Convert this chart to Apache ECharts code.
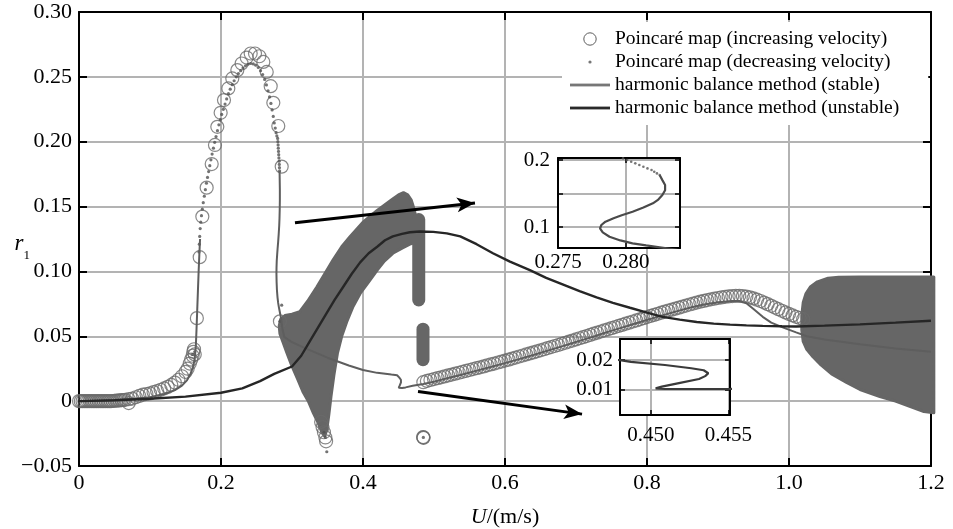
<!DOCTYPE html>
<html><head><meta charset="utf-8">
<script src="https://cdn.jsdelivr.net/npm/echarts@6.0.0/dist/echarts.min.js"></script>
<style>html,body{margin:0;padding:0;background:#fff}#c{width:953px;height:529px}</style>
</head><body><div id="c"></div><script>
// ---------- tick labels ----------
const xTicks = [0, 0.2, 0.4, 0.6, 0.8, 1.0, 1.2];
const xTickLabels = ['0', '0.2', '0.4', '0.6', '0.8', '1.0', '1.2'];
const yTicks = [-0.05, 0, 0.05, 0.10, 0.15, 0.20, 0.25, 0.30];
const yTickLabels = ['\u22120.05', '0', '0.05', '0.10', '0.15', '0.20', '0.25', '0.30'];
const inset1XTicks = [0.275, 0.280];
const inset1XLabels = ['0.275', '0.280'];
const inset1YTicks = [0.1, 0.2];
const inset1YLabels = ['0.1', '0.2'];
const inset2XTicks = [0.450, 0.455];
const inset2XLabels = ['0.450', '0.455'];
const inset2YTicks = [0.01, 0.02];
const inset2YLabels = ['0.01', '0.02'];

const nameInc = 'Poincaré map (increasing velocity)';
const nameDec = 'Poincaré map (decreasing velocity)';
const nameSt = 'harmonic balance method (stable)';
const nameUn = 'harmonic balance method (unstable)';

// ---------- Poincaré map, increasing velocity (open circles) ----------
const incCircles = [
 [0,0],[0.0025,0],[0.005,0],[0.0075,0],[0.01,0],[0.0125,0],[0.015,0],[0.0175,0],[0.02,0],[0.0225,0],
 [0.025,0],[0.0275,0],[0.03,0],[0.0325,0],[0.035,0],[0.0375,0],[0.04,0],[0.0425,0],[0.045,0],[0.0475,0.0001],
 [0.05,0.0003],[0.0525,0.0004],[0.055,0.0005],[0.0575,0.0006],[0.06,0.0008],[0.0625,0.0009],[0.065,0.001],
 [0.07,-0.0015],[0.07,0.0015],[0.075,0.002],
 [0.08,0.003],[0.085,0.004],[0.09,0.005],[0.095,0.0055],[0.1,0.006],[0.105,0.007],[0.11,0.0078],
 [0.115,0.0088],[0.12,0.0098],[0.125,0.011],[0.13,0.0125],[0.135,0.0143],[0.14,0.0165],[0.145,0.0192],
 [0.15,0.0225],[0.153,0.025],[0.156,0.029],[0.158,0.032],[0.16,0.035],[0.161,0.038],[0.163,0.036],[0.162,0.040],
 [0.166,0.064],[0.170,0.111],
 [0.1737,0.1423],[0.1798,0.1646],[0.1869,0.1828],[0.1915,0.1975],[0.1948,0.2115],[0.1995,0.2223],
 [0.2042,0.2321],[0.2103,0.2411],[0.2159,0.2488],[0.223,0.2552],[0.2291,0.2603],[0.2362,0.2649],
 [0.2418,0.268],[0.2479,0.268],[0.254,0.2659],[0.2596,0.2615],[0.2644,0.2538],[0.27,0.2428],
 [0.2737,0.23],[0.2807,0.2121],[0.2855,0.1808],
 [0.283,0.0615],
 [0.341,-0.016],[0.343,-0.02],[0.345,-0.024],[0.347,-0.028],[0.348,-0.031],
 [0.485,-0.028],[0.4853,-0.0283],[0.4847,-0.0277],
 [0.485,0.0146],[0.49,0.0156],[0.495,0.0163],[0.5,0.017],[0.505,0.0177],[0.51,0.0184],[0.515,0.0191],
 [0.52,0.0198],[0.525,0.0205],[0.53,0.0212],[0.535,0.0219],[0.54,0.0226],[0.545,0.0233],[0.55,0.024],
 [0.555,0.0247],[0.56,0.0254],[0.565,0.0261],[0.57,0.0268],[0.575,0.0276],[0.58,0.0283],[0.585,0.029],
 [0.59,0.0298],[0.595,0.0305],[0.6,0.0313],[0.605,0.032],[0.61,0.0328],[0.615,0.0336],[0.62,0.0344],
 [0.625,0.0352],[0.63,0.036],[0.635,0.0368],[0.64,0.0376],[0.645,0.0384],[0.65,0.0392],[0.655,0.04],
 [0.66,0.0409],[0.665,0.0417],[0.67,0.0425],[0.675,0.0433],[0.68,0.0442],[0.685,0.045],[0.69,0.0459],
 [0.695,0.0467],[0.7,0.0476],[0.705,0.0485],[0.71,0.0493],[0.715,0.0502],[0.72,0.0511],[0.725,0.052],
 [0.73,0.0528],[0.735,0.0537],[0.74,0.0546],[0.745,0.0554],[0.75,0.0563],[0.755,0.0571],[0.76,0.058],
 [0.765,0.0588],[0.77,0.0597],[0.775,0.0605],[0.78,0.0614],[0.785,0.0622],[0.79,0.0631],[0.795,0.064],
 [0.8,0.0648],[0.805,0.0657],[0.81,0.0665],[0.815,0.0673],[0.82,0.0682],[0.825,0.069],[0.83,0.0698],
 [0.835,0.0705],[0.84,0.0713],[0.845,0.0721],[0.85,0.0729],[0.855,0.0737],[0.86,0.0745],[0.865,0.0752],
 [0.87,0.076],[0.875,0.0767],[0.88,0.0773],[0.885,0.0779],[0.89,0.0785],[0.895,0.079],[0.9,0.0795],
 [0.905,0.08],[0.91,0.0804],[0.915,0.0807],[0.92,0.081],[0.925,0.0811],[0.93,0.0812],[0.935,0.081],
 [0.94,0.0806],[0.945,0.08],[0.95,0.0792],[0.955,0.0782],[0.96,0.0772],[0.965,0.076],[0.97,0.0748],
 [0.975,0.0735],[0.98,0.0722],[0.985,0.0709],[0.99,0.0697],[0.995,0.0684],[1.0,0.0672],[1.005,0.0661],
 [1.01,0.065],[1.015,0.0641],[1.02,0.0632]
];

// ---------- Poincaré map, decreasing velocity (dots) ----------
const decDots = [
 [0.169,0.115],[0.1695,0.121],[0.170,0.127],[0.1707,0.133],[0.1715,0.138],[0.1725,0.143],[0.1737,0.148],
 [0.175,0.153],[0.1765,0.158],[0.178,0.163],[0.1795,0.168],[0.181,0.1725],[0.1826,0.177],[0.1842,0.1815],
 [0.1858,0.186],[0.1875,0.1905],[0.1893,0.195],[0.1911,0.1995],[0.193,0.204],[0.195,0.2085],[0.197,0.213],
 [0.199,0.217],[0.201,0.221],[0.2033,0.225],[0.2057,0.229],[0.208,0.233],[0.2105,0.237],[0.213,0.2405],
 [0.2158,0.244],[0.2185,0.247],[0.2215,0.25],[0.2245,0.2525],[0.2277,0.2548],[0.231,0.2568],[0.2345,0.2585],
 [0.238,0.2597],[0.2418,0.2603],[0.2455,0.26],[0.249,0.259],[0.2525,0.2572],[0.2557,0.2548],[0.2587,0.2518],
 [0.2615,0.248],[0.264,0.2438],[0.2663,0.2393],[0.2684,0.2345],[0.2703,0.2295],[0.272,0.2245],[0.2736,0.2195],
 [0.275,0.2145],[0.2764,0.2105],[0.2776,0.207],[0.2787,0.2045],
 [0.2798,0.2025],[0.2801,0.2],[0.2804,0.1975],[0.2807,0.195],[0.281,0.1925],[0.2813,0.19],[0.2816,0.1875],
 [0.2819,0.185],[0.2821,0.1825],[0.2823,0.18],[0.2825,0.1775],
 [0.2855,0.074],[0.283,0.0615],[0.16,0.036],[0.163,0.038],
 [0.345,-0.024],[0.347,-0.028],[0.349,-0.039],[0.485,-0.028]
];

// ---------- harmonic balance method, stable ----------
const hbmStableA = [
 [0,0],[0.04,0.0005],[0.08,0.002],[0.1,0.003],[0.12,0.0055],[0.135,0.0085],[0.145,0.012],[0.152,0.016],
 [0.157,0.021],[0.161,0.027],[0.163,0.033],[0.1645,0.042],[0.1655,0.055],[0.1665,0.07],[0.1675,0.085],
 [0.1685,0.1],[0.1695,0.113],[0.1705,0.125]
];
const hbmStableB = [
 [0.2825,0.1775],[0.2827,0.17],[0.2829,0.1627],[0.2829,0.155],[0.2827,0.1478],[0.2824,0.141],[0.282,0.1354],
 [0.2813,0.129],[0.2805,0.1228],[0.2797,0.1175],[0.2791,0.113],[0.2785,0.108],[0.2782,0.103],[0.2781,0.098],
 [0.2783,0.092],[0.2788,0.0855],[0.2796,0.08],[0.2805,0.0757],[0.2815,0.0725],[0.2825,0.0697],[0.2845,0.064],
 [0.2865,0.056],[0.289,0.0495],[0.295,0.0472],[0.3,0.0455],[0.32,0.0405],[0.35,0.0335],[0.38,0.0275],
 [0.4,0.024],[0.42,0.0218],[0.44,0.0205],[0.448,0.02],[0.4487,0.0194],[0.4509,0.0183],[0.4526,0.0172],
 [0.4534,0.0165],[0.4537,0.0155],[0.4535,0.0145],[0.4531,0.0135],[0.4518,0.0121],[0.4507,0.0109],
 [0.4503,0.0103],[0.4509,0.0101],[0.4551,0.0101],[0.46,0.0106],[0.47,0.0118],[0.485,0.0132],
 [0.5,0.015],[0.52,0.0178],[0.54,0.0206],[0.56,0.0234],[0.58,0.0263],[0.6,0.0293],[0.62,0.0324],
 [0.64,0.0356],[0.66,0.0389],[0.68,0.0422],[0.7,0.0456],[0.72,0.049],[0.74,0.0525],[0.76,0.0559],
 [0.78,0.0593],[0.8,0.0626],[0.82,0.0658],[0.84,0.069],[0.86,0.072],[0.88,0.0745],[0.9,0.0763],
 [0.92,0.0772],[0.93,0.0772],[0.94,0.0755],[0.95,0.071],[0.963,0.065],[0.975,0.0605],[0.992,0.0567],
 [1.01,0.053],[1.025,0.05],[1.05,0.0475],[1.1,0.0438],[1.15,0.0405],[1.2,0.038]
];

// ---------- harmonic balance method, unstable ----------
const hbmUnstable = [
 [0,0],[0.05,0.0007],[0.1,0.0018],[0.15,0.0035],[0.2,0.0065],[0.23,0.0098],[0.255,0.0154],[0.275,0.021],
 [0.3,0.0267],[0.313,0.035],[0.325,0.046],[0.337,0.057],[0.349,0.068],[0.36,0.078],[0.372,0.088],
 [0.384,0.098],[0.396,0.107],[0.408,0.114],[0.42,0.119],[0.431,0.124],[0.442,0.127],[0.455,0.129],
 [0.466,0.1302],[0.48,0.1308],[0.499,0.1305],[0.518,0.1293],[0.537,0.127],[0.56,0.121],[0.583,0.114],
 [0.607,0.1075],[0.635,0.101],[0.658,0.095],[0.682,0.0898],[0.705,0.0848],[0.729,0.08],[0.752,0.0758],
 [0.776,0.072],[0.8,0.0683],[0.822,0.065],[0.846,0.0628],[0.87,0.061],[0.894,0.0598],[0.917,0.059],
 [0.94,0.0584],[0.963,0.058],[0.99,0.0577],[1.01,0.0576],[1.05,0.0582],[1.1,0.0592],[1.15,0.0605],[1.2,0.062]
];

// ---------- dense Poincaré clouds (outlines) ----------
const cloudMid = [
 [0.282,0.058],[0.284,0.063],[0.29,0.066],[0.3,0.067],[0.311,0.069],[0.322,0.077],[0.335,0.088],
 [0.346,0.098],[0.358,0.109],[0.37,0.119],[0.382,0.127],[0.4,0.138],[0.42,0.147],[0.44,0.155],
 [0.45,0.159],[0.457,0.1607],[0.463,0.159],[0.468,0.155],[0.472,0.148],[0.475,0.14],
 [0.472,0.122],[0.466,0.121],[0.455,0.118],[0.442,0.114],[0.43,0.108],[0.42,0.101],[0.408,0.092],
 [0.396,0.083],[0.386,0.073],[0.377,0.061],[0.37,0.05],[0.364,0.037],[0.359,0.02],[0.355,0.004],
 [0.352,-0.01],[0.349,-0.022],[0.346,-0.027],[0.342,-0.024],[0.337,-0.017],[0.33,-0.009],[0.323,0.0],
 [0.316,0.0066],[0.308,0.017],[0.3,0.027],[0.293,0.037],[0.287,0.046],[0.283,0.052]
];
const cloudRight = [
 [1.02,0.076],[1.024,0.083],[1.03,0.088],[1.04,0.092],[1.055,0.0948],[1.07,0.0956],[1.1,0.0957],
 [1.15,0.0957],[1.204,0.0957],[1.204,-0.009],[1.19,-0.008],[1.17,-0.004],[1.15,0.0],[1.128,0.0036],
 [1.1,0.009],[1.081,0.0144],[1.06,0.021],[1.045,0.028],[1.034,0.034],[1.025,0.04],[1.02,0.046],
 [1.018,0.055],[1.018,0.066]
];
const cloudBar1 = [[0.4785,0.14],[0.4785,0.078]];
const cloudBar2 = [[0.4845,0.0555],[0.4845,0.032]];

// ---------- annotation arrows ----------
const arrow1 = [[0.3042,0.1375],[0.5577,0.1528]];
const arrow2 = [[0.4775,0.0074],[0.7085,-0.010]];

// ---------- styling ----------
const FONT = "'Liberation Serif','Times New Roman',serif";
const C_INC = '#6a6a6a', C_DEC = '#505050', C_ST = '#5e5e5e', C_UN = '#262626', C_CLOUD = '#666666';
const GRIDC = '#b3b3b3';

function lab(ticks, labels) {
  return function (v) {
    for (let i = 0; i < ticks.length; i++) if (Math.abs(ticks[i] - v) < 1e-9) return labels[i];
    return '';
  };
}
function svgIcon(inner) {
  return 'image://data:image/svg+xml;charset=utf-8,' + encodeURIComponent(
    "<svg xmlns='http://www.w3.org/2000/svg' width='40' height='14' viewBox='0 0 40 14'>" + inner + "</svg>");
}

function mainAxisX(pos, show) {
  return {
    type: 'value', gridIndex: 0, position: pos, min: 0, max: 1.2, interval: 0.2,
    axisLine: { show: true, onZero: false, lineStyle: { color: '#000', width: 2 } },
    axisTick: { show: true, inside: true, length: 8, lineStyle: { color: '#000', width: 2 } },
    axisLabel: { show: show, margin: 6, formatter: lab(xTicks, xTickLabels), fontFamily: FONT, fontSize: 22, color: '#000' },
    splitLine: { show: show, lineStyle: { color: GRIDC, width: 2 } },
    z: 0
  };
}
function mainAxisY(pos, show) {
  return {
    type: 'value', gridIndex: 0, position: pos, min: -0.05, max: 0.30, interval: 0.05,
    axisLine: { show: true, onZero: false, lineStyle: { color: '#000', width: 2 } },
    axisTick: { show: true, inside: true, length: 8, lineStyle: { color: '#000', width: 2 } },
    axisLabel: { show: show, margin: 7, formatter: lab(yTicks, yTickLabels), fontFamily: FONT, fontSize: 22, color: '#000' },
    splitLine: { show: show, lineStyle: { color: GRIDC, width: 2 } },
    z: 0
  };
}
function insetAxis(grid, pos, min, max, step, ticks, labels, margin, show) {
  return {
    type: 'value', gridIndex: grid, position: pos, min: min, max: max,
    minInterval: step, maxInterval: step,
    axisLine: { show: true, onZero: false, lineStyle: { color: '#000', width: 2 } },
    axisTick: { show: true, inside: true, length: 5, lineStyle: { color: '#000', width: 1.5 } },
    axisLabel: { show: show, margin: margin, formatter: lab(ticks, labels), fontFamily: FONT, fontSize: 21, color: '#000',
                 showMinLabel: true, showMaxLabel: true, hideOverlap: false },
    splitLine: { show: show, lineStyle: { color: GRIDC, width: 2 } },
    z: 11
  };
}

const chart = echarts.init(document.getElementById('c'), null, { renderer: 'canvas' });
const option = {
  animation: false,
  backgroundColor: '#fff',
  grid: [
    { left: 79, top: 12, width: 852, height: 454, show: false, containLabel: false, outerBoundsMode: 'none' },
    { left: 558, top: 158, width: 122, height: 90, show: true, backgroundColor: '#fff', borderWidth: 0, z: 10,
      containLabel: false, outerBoundsMode: 'none' },
    { left: 620, top: 339, width: 110, height: 76, show: true, backgroundColor: '#fff', borderWidth: 0, z: 10,
      containLabel: false, outerBoundsMode: 'none' }
  ],
  xAxis: [
    Object.assign(mainAxisX('bottom', true), {
      name: '{i|U}{n|/(m/s)}', nameLocation: 'middle', nameGap: 40, nameMoveOverlap: false,
      nameTextStyle: { rich: { i: { fontFamily: FONT, fontSize: 22, fontStyle: 'italic', color: '#000' },
                               n: { fontFamily: FONT, fontSize: 22, color: '#000' } } }
    }),
    mainAxisX('top', false),
    insetAxis(1, 'bottom', 0.275, 0.284, 0.005, inset1XTicks, inset1XLabels, 4, true),
    insetAxis(1, 'top', 0.275, 0.284, 0.005, inset1XTicks, inset1XLabels, 4, false),
    insetAxis(2, 'bottom', 0.448, 0.4551, 0.005, inset2XTicks, inset2XLabels, 10, true),
    insetAxis(2, 'top', 0.448, 0.4551, 0.005, inset2XTicks, inset2XLabels, 10, false)
  ],
  yAxis: [
    Object.assign(mainAxisY('left', true), {
      name: '{i|r}{s|1}', nameLocation: 'middle', nameRotate: 0, nameGap: 49, nameMoveOverlap: false,
      nameTextStyle: { padding: [16, 0, 0, 0],
        rich: { i: { fontFamily: FONT, fontSize: 23, fontStyle: 'italic', color: '#000', lineHeight: 30, verticalAlign: 'top' },
                s: { fontFamily: FONT, fontSize: 13, color: '#000', lineHeight: 13, verticalAlign: 'bottom' } } }
    }),
    mainAxisY('right', false),
    insetAxis(1, 'left', 0.0687, 0.203, 0.05, inset1YTicks, inset1YLabels, 8, true),
    insetAxis(1, 'right', 0.0687, 0.203, 0.05, inset1YTicks, inset1YLabels, 8, false),
    insetAxis(2, 'left', 0.0012, 0.0272, 0.01, inset2YTicks, inset2YLabels, 7, true),
    insetAxis(2, 'right', 0.0012, 0.0272, 0.01, inset2YTicks, inset2YLabels, 7, false)
  ],
  legend: {
    orient: 'vertical', left: 562, top: 22, itemWidth: 40, itemHeight: 14, itemGap: 3,
    padding: [7, 29, 7, 8], backgroundColor: '#fff', selectedMode: false, z: 20,
    textStyle: { fontFamily: FONT, fontSize: 19.5, color: '#000' },
    data: [
      { name: nameInc, icon: svgIcon("<circle cx='20' cy='7' r='6.2' fill='none' stroke='#333' stroke-width='1'/>") },
      { name: nameDec, icon: svgIcon("<circle cx='20' cy='7' r='1.6' fill='#555'/>") },
      { name: nameSt, icon: svgIcon("<rect x='0' y='5.6' width='40' height='2.8' fill='#777'/>") },
      { name: nameUn, icon: svgIcon("<rect x='0' y='5.6' width='40' height='2.8' fill='#2a2a2a'/>") }
    ]
  },
  series: [
    { name: 'clouds', type: 'custom', xAxisIndex: 0, yAxisIndex: 0, z: 1, silent: true,
      data: [cloudMid[0], cloudRight[0]],
      renderItem: function (params, api) {
        const poly = [cloudMid, cloudRight][params.dataIndex];
        return { type: 'polygon', shape: { points: poly.map(p => api.coord(p)) },
                 style: { fill: C_CLOUD, stroke: C_CLOUD, lineWidth: 3, lineJoin: 'round' } };
      } },
    { name: 'cloudbar1', type: 'line', xAxisIndex: 0, yAxisIndex: 0, z: 1, data: cloudBar1, symbol: 'none', silent: true,
      lineStyle: { color: C_CLOUD, width: 13, cap: 'round' } },
    { name: 'cloudbar2', type: 'line', xAxisIndex: 0, yAxisIndex: 0, z: 1, data: cloudBar2, symbol: 'none', silent: true,
      lineStyle: { color: C_CLOUD, width: 13, cap: 'round' } },
    { name: nameInc, type: 'scatter', xAxisIndex: 0, yAxisIndex: 0, z: 2, data: incCircles,
      symbol: 'circle', symbolSize: 13,
      itemStyle: { color: 'rgba(0,0,0,0)', borderColor: C_INC, borderWidth: 1.2 } },
    { name: nameDec, type: 'scatter', xAxisIndex: 0, yAxisIndex: 0, z: 3, data: decDots,
      symbol: 'circle', symbolSize: 3.2, itemStyle: { color: C_DEC } },
    { name: nameSt, type: 'line', xAxisIndex: 0, yAxisIndex: 0, z: 4, data: hbmStableA, symbol: 'none',
      lineStyle: { color: C_ST, width: 2 } },
    { name: nameSt, type: 'line', xAxisIndex: 0, yAxisIndex: 0, z: 4, data: hbmStableB, symbol: 'none',
      lineStyle: { color: C_ST, width: 2 } },
    { name: nameUn, type: 'line', xAxisIndex: 0, yAxisIndex: 0, z: 5, data: hbmUnstable, symbol: 'none',
      lineStyle: { color: C_UN, width: 2.4 } },
    { name: 'arrows', type: 'line', xAxisIndex: 0, yAxisIndex: 0, z: 6, data: [], symbol: 'none',
      markLine: { silent: true, symbol: ['none', 'arrow'], symbolSize: [11, 18], label: { show: false },
        lineStyle: { color: '#000', width: 3, type: 'solid' },
        data: [
          [{ coord: arrow1[0] }, { coord: arrow1[1] }],
          [{ coord: arrow2[0] }, { coord: arrow2[1] }]
        ] } },
    // inset 1
    { name: nameSt, type: 'line', xAxisIndex: 2, yAxisIndex: 2, z: 12, data: hbmStableB, symbol: 'none',
      lineStyle: { color: '#4a4a4a', width: 2.2 } },
    { name: nameDec, type: 'scatter', xAxisIndex: 2, yAxisIndex: 2, z: 12, data: decDots,
      symbol: 'circle', symbolSize: 2.6, itemStyle: { color: '#555' } },
    // inset 2
    { name: nameSt, type: 'line', xAxisIndex: 4, yAxisIndex: 4, z: 12, data: hbmStableB, symbol: 'none',
      lineStyle: { color: '#3a3a3a', width: 2.2 } }
  ]
};
chart.setOption(option);
</script></body></html>
